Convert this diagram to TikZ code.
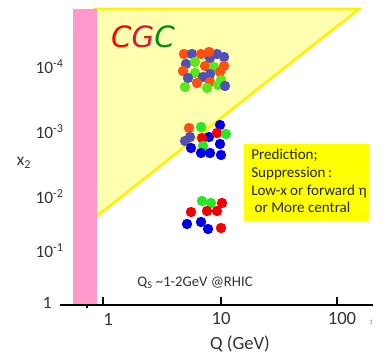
\documentclass[tikz,border=0pt]{standalone}
\usepackage{fontspec}
\setmainfont{Carlito}
\newfontfamily\cgcfont{DejaVu Sans}
\usepackage{xcolor}
\usetikzlibrary{positioning, calc}
\definecolor{pinkband}{RGB}{255,153,204}
\definecolor{cgcfill}{RGB}{255,255,176}
\definecolor{cgcedge}{RGB}{255,242,0}
\definecolor{boxyellow}{RGB}{255,255,0}
\definecolor{axisgray}{RGB}{50,50,50}
\definecolor{dotorange}{RGB}{255,80,20}
\definecolor{dotslate}{RGB}{80,80,185}
\definecolor{dotlime}{RGB}{90,230,30}
\definecolor{dotblue}{RGB}{0,0,230}
\definecolor{dotred}{RGB}{240,0,0}
\definecolor{dotgreen}{RGB}{40,230,40}
\definecolor{cgcred}{RGB}{255,0,0}
\definecolor{cgccrimson}{RGB}{215,25,55}
\definecolor{cgcgreen}{RGB}{0,140,20}

\begin{document}
\begin{tikzpicture}[x=0.75pt, y=-0.75pt]
  \tikzstyle{ticklabel} = [inner sep=0pt, font=\fontsize{14}{16}\selectfont, text=axisgray]
  \tikzstyle{ylabel} = [inner sep=0pt, anchor=east, font=\fontsize{13}{15}\selectfont, text=axisgray]
  \tikzstyle{parton} = [circle, inner sep=0pt, minimum size=7.8pt]
  \tikzstyle{predbox} = [rectangle, fill=boxyellow, inner sep=0pt, minimum width=93.75pt, minimum height=57.75pt]

  \useasboundingbox (0,0) rectangle (392,359);

  % saturation region
  \fill[cgcfill] (97,9) -- (359,9) -- (97,216) -- cycle;
  \draw[cgcedge, line width=2pt] (93,9) -- (359,9) -- (97,216);
  \fill[pinkband] (73,9) rectangle (97,304);

  % axis
  \coordinate (ax0) at (60,305);
  \coordinate (ax1) at (373,305);
  \draw[line width=1.6pt] (ax0) -- (ax1);
  \foreach \tx in {103,221,337}
    \draw[line width=1.6pt] (\tx,305) -- (\tx,297);
  \draw[line width=1pt] (87,305) -- (87,308);

  \node[ticklabel] (q1) at (108,319) {1};
  \node[ticklabel] (q10) at (221,319) {10};
  \node[ticklabel] (q100) at (342,319) {100};
  \node[inner sep=0pt, font=\fontsize{5}{6}\selectfont, text=gray] (qend) at (371,322) {1};
  \node[ticklabel] (qlabel) at (240,344) {Q (GeV)};

  \node[ylabel] (y4) at (64,67) {10\textsuperscript{-4}};
  \node[ylabel] (y3) at (64,132) {10\textsuperscript{-3}};
  \node[ylabel] (y2) at (64,197) {10\textsuperscript{-2}};
  \node[ylabel] (y1) at (64,251) {10\textsuperscript{-1}};
  \node[ylabel] (y0) at (52,303) {1};
  \node[inner sep=0pt, font=\fontsize{13}{15}\selectfont, text=axisgray] (xtwo) at (24,163) {x\textsubscript{2}};

  \node[inner sep=0pt, font=\fontsize{11}{13}\selectfont, text=axisgray] (qs) at (195,283) {Q\textsubscript{S} \textasciitilde1-2GeV @RHIC};

  \node[inner sep=0pt, font=\cgcfont\itshape\fontsize{22}{24}\selectfont] (cgc) at (143,37)
    {\textcolor{cgcred}{C}\textcolor{cgccrimson}{G}\textcolor{cgcgreen}{C}};

  % small-x partons
  \foreach \px/\py/\pc in {184/54/dotorange, 192/54/dotslate, 201/54/dotorange, 217/54/dotslate,
      210/58/dotslate, 209/52/dotorange, 224/57/dotslate,
      186/64/dotslate, 195/62/dotlime, 205/66/dotorange, 214/67/dotlime, 224/66/dotorange,
      183/71/dotorange, 195/73/dotlime, 210/74/dotslate, 203/77/dotslate, 220/72/dotorange,
      188/78/dotslate, 221/80/dotlime, 210/82/dotorange,
      185/87/dotlime, 197/83/dotorange, 207/88/dotlime, 218/85/dotlime, 225/86/dotslate}
    \node[parton, fill=\pc] at (\px,\py) {};

  \foreach \px/\py/\pc in {189/128/dotorange, 201/127/dotgreen, 220/125/dotblue,
      185/141/dotslate, 190/137/dotslate, 209/137/dotblue, 202/138/dotred, 217/133/dotred, 226/134/dotgreen,
      191/148/dotblue, 220/144/dotblue, 203/146/dotgreen,
      201/153/dotblue, 210/153/dotblue, 221/155/dotblue}
    \node[parton, fill=\pc] at (\px,\py) {};

  \foreach \px/\py/\pc in {202/201/dotgreen, 211/203/dotgreen, 222/203/dotred,
      191/212/dotred, 207/211/dotred, 217/211/dotred,
      187/224/dotblue, 201/222/dotblue, 208/229/dotblue, 221/228/dotred}
    \node[parton, fill=\pc] at (\px,\py) {};

  \node[predbox] (pred) at (306.5,182.5) {};
  \node[inner sep=0pt, anchor=north west, align=left, text=black!85,
        font=\fontsize{11.3}{13.3}\selectfont] (predtext) at (251,149)
    {Prediction;\\Suppression\,:\\Low-x or forward η\\\ or More central};
\end{tikzpicture}
\end{document}
